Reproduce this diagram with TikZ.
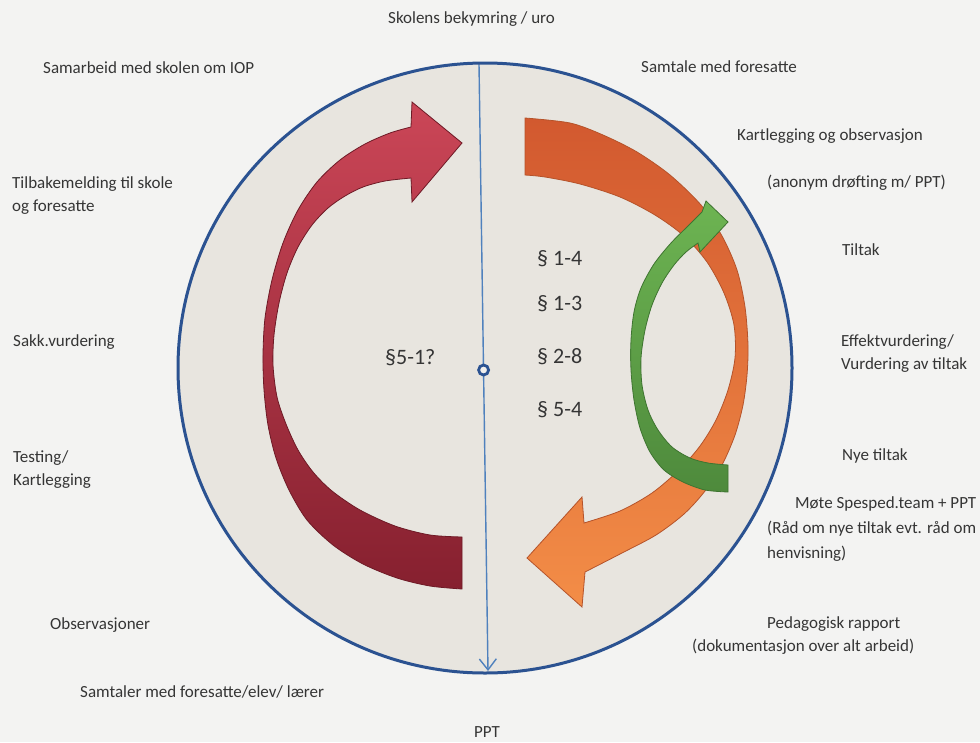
\documentclass[tikz,border=0pt]{standalone}
\usepackage{fontspec}
\setmainfont{Carlito}
\usetikzlibrary{arrows.meta}

\definecolor{paper}{HTML}{F3F3F2}
\definecolor{disc}{HTML}{E8E5DF}
\definecolor{rim}{HTML}{2B5291}
\definecolor{axisblue}{HTML}{4F81BD}
\definecolor{ink}{HTML}{353535}
\definecolor{redtop}{HTML}{CB4657}
\definecolor{redbot}{HTML}{86202F}
\definecolor{redline}{HTML}{6E1A26}
\definecolor{orangetop}{HTML}{D2592F}
\definecolor{orangebot}{HTML}{F38D47}
\definecolor{orangeline}{HTML}{B5532A}
\definecolor{greentop}{HTML}{6DB452}
\definecolor{greenbot}{HTML}{4E8A3C}
\definecolor{greenline}{HTML}{3E7430}

\begin{document}
\begin{tikzpicture}[x=1pt,y=-1pt,
  lbl/.style={anchor=base west, inner sep=0pt, text=ink, font=\fontsize{17}{20}\selectfont},
  para/.style={lbl, font=\fontsize{22}{26}\selectfont},
  redarrow/.style={draw=redline, line width=0.8pt, top color=redtop, bottom color=redbot},
  orangearrow/.style={draw=orangeline, line width=0.8pt, top color=orangetop, bottom color=orangebot},
  greenarrow/.style={draw=greenline, line width=0.8pt, top color=greentop, bottom color=greenbot},
  axisline/.style={draw=axisblue, line width=1.4pt, -{Straight Barb[length=11pt,width=17pt,line width=1.4pt]}},
  hubring/.style={circle, draw=rim, line width=2.8pt, fill=disc!60!white, minimum size=10pt, inner sep=0pt}]

\useasboundingbox (0,0) rectangle (980,742);
\fill[paper] (0,0) rectangle (980,742);

% the disc
\coordinate (c) at (485,368);
\fill[disc] (c) ellipse[x radius=307, y radius=305];

% orange loop (right side)
\draw[orangearrow] plot[smooth] coordinates {(525,118) (570,123) (603,135) (637,152) (670,175) (701,205) (722,236) (737,270) (745,307) (748,345) (747,375) (743,405) (735,435) (722,465) (705,491) (684,514) (656,535) (622,553) (585,572)}
  -- (582,607) -- (527,558) -- (582,497) -- (584,523)
  -- plot[smooth] coordinates {(584,523) (620,511) (652,493) (679,470) (700,446) (716,420) (728,390) (735,358) (734,325) (724,293) (707,262) (684,236) (655,215) (620,197) (580,184) (545,177) (525,175)}
  -- cycle;

% green inner loop
\draw[greenarrow] plot[smooth] coordinates {(728,492) (705,490) (683,482) (664,470) (650,452) (640,428) (634,400) (631,370) (631,340) (634,312) (641,288) (654,264) (671,243) (688,226) (702,212)}
  -- (706,201) -- (728,222) -- (700,252) -- (698,243)
  -- plot[smooth] coordinates {(698,243) (686,252) (674,265) (662,283) (652,305) (645,330) (641,358) (642,385) (648,410) (658,430) (672,447) (690,458) (708,463) (728,465)}
  -- cycle;

% red loop (left side)
\draw[redarrow] plot[smooth] coordinates {(462,589) (430,586) (397,578) (363,564) (333,545) (307,520) (289,490) (276,458) (268,425) (264,390) (263,355) (265,318) (272,280) (283,243) (298,210) (317,182) (340,160) (365,144) (390,133) (411,127)}
  -- (412,102) -- (462,143) -- (412,202) -- (411,178)
  -- plot[smooth] coordinates {(411,178) (385,181) (363,187) (345,196) (328,208) (312,225) (298,247) (287,273) (279,303) (274,335) (273,365) (277,397) (286,424) (298,450) (313,472) (332,491) (360,510) (395,526) (430,535) (462,537)}
  -- cycle;

% vertical axis with its hub
\coordinate (axtop) at (479,64);
\coordinate (axbot) at (488,671);
\draw[axisline] (axtop) -- (axbot);
\node[hubring] (hub) at (483.6,370) {};

% rim
\draw[rim, line width=3pt] (c) ellipse[x radius=307, y radius=305];

% paragraphs inside the disc
\node[para] (p14) at (537,265) {§ 1-4};
\node[para] (p13) at (537,310) {§ 1-3};
\node[para] (p28) at (537,363) {§ 2-8};
\node[para] (p54) at (537,416) {§ 5-4};
\node[para] (p51) at (385,364) {§5-1?};

% labels around the disc
\node[lbl] (t0) at (388,23) {Skolens bekymring / uro};
\node[lbl] (l1) at (43,73) {Samarbeid med skolen om IOP};
\node[lbl] (l2a) at (12,188) {Tilbakemelding til skole};
\node[lbl] (l2b) at (12,211) {og foresatte};
\node[lbl] (l3) at (13,346) {Sakk.vurdering};
\node[lbl] (l4a) at (13,462) {Testing/};
\node[lbl] (l4b) at (13,485) {Kartlegging};
\node[lbl] (l5) at (50,629) {Observasjoner};
\node[lbl] (l6) at (80,697) {Samtaler med foresatte/elev/ lærer};
\node[lbl] (b0) at (474,737) {PPT};

\node[lbl] (r1) at (641,72) {Samtale med foresatte};
\node[lbl] (r2) at (737,140) {Kartlegging og observasjon};
\node[lbl] (r3) at (767,187) {(anonym drøfting m/ PPT)};
\node[lbl] (r4) at (842,255) {Tiltak};
\node[lbl] (r5a) at (841,346) {Effektvurdering/};
\node[lbl] (r5b) at (841,369) {Vurdering av tiltak};
\node[lbl] (r6) at (842,460) {Nye tiltak};
\node[lbl] (r7a) at (795,508) {Møte Spesped.team + PPT};
\node[lbl] (r7b) at (767,533) {(Råd om nye tiltak evt. råd om};
\node[lbl] (r7c) at (767,558) {henvisning)};
\node[lbl] (r8a) at (767,628) {Pedagogisk rapport};
\node[lbl] (r8b) at (692,651) {(dokumentasjon over alt arbeid)};
\end{tikzpicture}
\end{document}
